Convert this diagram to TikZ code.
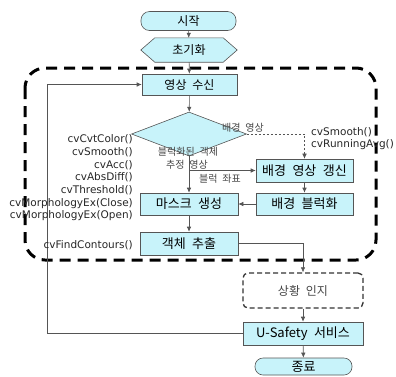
\documentclass[tikz,border=0pt]{standalone}
\usepackage{fontspec}
\setmainfont{DejaVu Sans}
\newfontfamily\kr[WordSpace=2.2]{Noto Sans CJK KR}
\usetikzlibrary{arrows.meta,shapes.geometric,backgrounds}
\definecolor{boxC}{RGB}{200,243,250}
\definecolor{lineC}{RGB}{85,85,85}
\definecolor{lblC}{RGB}{70,70,70}
\begin{document}
\begin{tikzpicture}[x=1pt,y=-1pt,
  box/.style={draw=lineC, line width=0.6pt, fill=boxC, inner sep=0pt},
  term/.style={box, rounded corners=8.5pt},
  kA/.style={font=\kr\fontsize{12}{14}\selectfont},
  kB/.style={font=\kr\fontsize{13}{15}\selectfont},
  conn/.style={draw=lineC, line width=0.6pt, -{Latex[length=5pt,width=4.5pt]}},
  klbl/.style={font=\kr\fontsize{10}{12}\selectfont, text=lblC, inner sep=0pt},
  cvl/.style={font=\fontsize{10.5}{12}\selectfont, text=black!85, inner sep=0pt, text height=7.5pt, text depth=2pt},
  frame/.style={line width=3pt, dash pattern=on 11pt off 7pt, rounded corners=20pt}
]
\useasboundingbox (0,0) rectangle (396,376);

% big dashed frame
\draw[frame] (25,68) rectangle (376,260);

% nodes
\node[term, kA, minimum width=95pt, minimum height=19pt] (start) at (188.5,21) {시작};
\node[kA, inner sep=0pt, minimum width=96pt, minimum height=24pt] (init) at (189,50) {초기화};
\begin{scope}[on background layer]
\draw[box] (init.west) -- ([xshift=14pt]init.north west) -- ([xshift=-14pt]init.north east)
  -- (init.east) -- ([xshift=-14pt]init.south east) -- ([xshift=14pt]init.south west) -- cycle;
\end{scope}
\node[box, kA, minimum width=95pt, minimum height=21pt] (recv) at (189.5,84.5) {영상 수신};
\node[box, diamond, minimum width=115pt, minimum height=44pt] (dia) at (189,134) {};
\node[box, kB, minimum width=98pt, minimum height=22pt] (mask) at (189,204) {마스크 생성};
\node[box, kB, minimum width=98pt, minimum height=23pt] (extract) at (189,243.5) {객체 추출};
\node[box, kB, minimum width=97pt, minimum height=23pt] (bgupd) at (304.5,170.5) {배경 영상 갱신};
\node[box, kB, minimum width=97pt, minimum height=22pt] (bgblk) at (304.5,204) {배경 블럭화};
\node[draw=black!80, line width=1.3pt, dash pattern=on 5pt off 3pt, rounded corners=5pt, fill=white,
  inner sep=0pt, minimum width=120pt, minimum height=35pt, kA, text=lblC] (sit) at (303,290.5) {상황 인지};
\node[box, kB, minimum width=120pt, minimum height=23pt] (usafety) at (303,333.5) {U-Safety 서비스};
\node[term, kB, minimum width=97pt, minimum height=17pt, rounded corners=8pt] (endn) at (303.5,366.5) {종료};

% connectors
\draw[conn] (start) -- (init);
\draw[conn] (init) -- (recv);
\draw[conn] (recv) -- (dia);
\draw[conn, line width=0.5pt, dash pattern=on 2pt off 2pt] (dia.east) -| (bgupd.north);
\draw[conn] (dia.south) -- (mask.north);
\draw[conn] (bgupd.west -| dia.south) -- (bgupd.west);
\draw[conn] (bgupd) -- (bgblk);
\draw[conn] (bgblk) -- (mask);
\draw[conn] (mask) -- (extract);
\draw[conn] (extract.east) -| (sit.north);
\draw[conn] (sit) -- (usafety);
\draw[conn] (usafety) -- (endn);
\coordinate (loopx) at (47,0);
\draw[conn] (usafety.west) -- (usafety.west -| loopx) |- (recv.west);

% labels
\node[klbl] (lbg) at (243,127.5) {배경 영상};
\node[klbl] (lobj1) at (188,152) {블럭화된 객체};
\node[klbl] (lobj2) at (187,165) {추정 영상};
\node[klbl] (lcoord) at (220,178.5) {블럭 좌표};

\node[cvl, anchor=east] (cv1) at (133,140) {cvCvtColor()};
\node[cvl, anchor=east] (cv2) at (133,152.7) {cvSmooth()};
\node[cvl, anchor=east] (cv3) at (133,165.4) {cvAcc()};
\node[cvl, anchor=east] (cv4) at (133,178.1) {cvAbsDiff()};
\node[cvl, anchor=east] (cv5) at (133,190.8) {cvThreshold()};
\node[cvl, anchor=east] (cv6) at (133,203.5) {cvMorphologyEx(Close)};
\node[cvl, anchor=east] (cv7) at (133,216.2) {cvMorphologyEx(Open)};
\node[cvl, anchor=east] (cv8) at (133,246) {cvFindContours()};
\node[cvl, anchor=west] (cv9) at (311,133) {cvSmooth()};
\node[cvl, anchor=west] (cv10) at (311,145) {cvRunningAvg()};
\end{tikzpicture}
\end{document}
